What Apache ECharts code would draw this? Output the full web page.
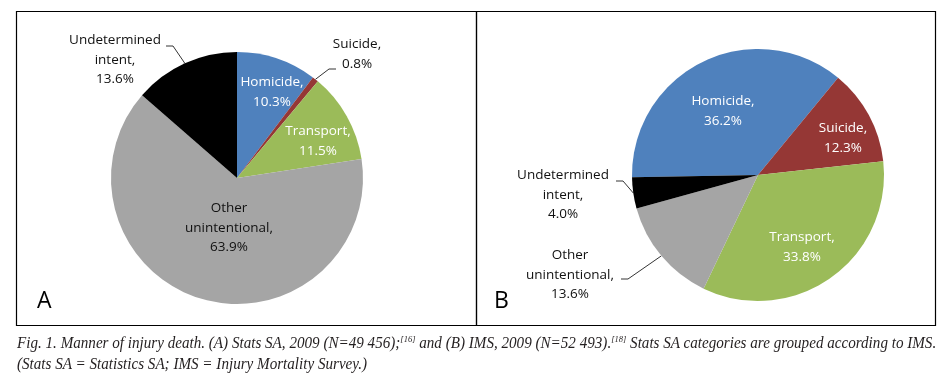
<!DOCTYPE html>
<html>
<head>
<meta charset="utf-8">
<script src="https://cdn.jsdelivr.net/npm/echarts@6/dist/echarts.min.js"></script>
<style>
  html, body { margin: 0; padding: 0; background: #fff; }
  #chart { position: absolute; left: 0; top: 0; width: 952px; height: 383px; }
  .caption {
    position: absolute;
    left: 17px;
    font-family: 'Liberation Serif', serif;
    font-style: italic;
    font-size: 16px;
    line-height: 18px;
    color: #231f20;
    white-space: nowrap;
    transform-origin: 0 0;
  }
  .caption sup { font-size: 9px; vertical-align: 6px; line-height: 0; }
</style>
</head>
<body>
<div id="chart"></div>
<div class="caption" id="cap1" style="top:334px">Fig. 1. Manner of injury death. (A) Stats SA, 2009 (N=49 456);<sup>[16]</sup> and (B) IMS, 2009 (N=52 493).<sup>[18]</sup> Stats SA categories are grouped according to IMS.</div>
<div class="caption" id="cap2" style="top:355px">(Stats SA = Statistics SA; IMS = Injury Mortality Survey.)</div>
<script>
// data
const categories = ['Homicide', 'Suicide', 'Transport', 'Other unintentional', 'Undetermined intent'];
const statsSA = [10.3, 0.8, 11.5, 63.9, 13.6]; // (A) Stats SA 2009
const ims = [36.2, 12.3, 33.8, 13.6, 4.0];     // (B) IMS 2009

// how the category names wrap in the slice labels
const labelNames = {
  'Homicide': 'Homicide',
  'Suicide': 'Suicide',
  'Transport': 'Transport',
  'Other unintentional': 'Other\nunintentional',
  'Undetermined intent': 'Undetermined\nintent'
};

const colors = ['#4F81BD', '#953735', '#9BBB59', '#A5A5A5', '#000000'];
const fontFamily = "'Open Sans', 'Noto Sans', sans-serif";

// label placement per panel (centre of label, leader line bend + end)
const labelStyleA = {
  'Homicide': { x: 272, y: 92, inside: true },
  'Suicide': { x: 357, y: 54, leader: [[329, 69], [336, 69]] },
  'Transport': { x: 318, y: 141, inside: true },
  'Other unintentional': { x: 229, y: 228, inside: true, dark: true },
  'Undetermined intent': { x: 115, y: 60, leader: [[173, 46], [166, 46]] }
};
const labelStyleB = {
  'Homicide': { x: 723, y: 111, inside: true },
  'Suicide': { x: 843, y: 138, inside: true },
  'Transport': { x: 802, y: 247, inside: true },
  'Other unintentional': { x: 570, y: 275, leader: [[628, 279], [621, 279]] },
  'Undetermined intent': { x: 563, y: 195, leader: [[623, 181], [616, 181]] }
};
const labelStyles = [labelStyleA, labelStyleB];

const buildData = (values, styles) => {
  return categories.map((name, i) => {
    const st = styles[name];
    return {
      name,
      value: values[i],
      itemStyle: { color: colors[i] },
      label: {
        color: st.inside && !st.dark ? '#ffffff' : '#111111'
      },
      labelLine: { show: !st.inside }
    };
  });
};

const makeSeries = (values, styles, center, startAngle) => {
  return {
    type: 'pie',
    center,
    radius: 126,
    startAngle,
    clockwise: true,
    avoidLabelOverlap: false,
    silent: true,
    animation: false,
    itemStyle: { borderWidth: 0 },
    label: {
      show: true,
      position: 'outside',
      fontFamily,
      fontSize: 13.5,
      lineHeight: 19.5,
      align: 'center',
      formatter: (p) => `${labelNames[p.name]},\n${p.value.toFixed(1)}%`
    },
    labelLine: {
      show: true,
      lineStyle: { color: '#000', width: 0.8 }
    },
    labelLayout: (params) => {
      const name = categories[params.dataIndex];
      const st = styles[name];
      const out = { x: st.x, y: st.y, align: 'center', verticalAlign: 'middle' };
      if (st.leader && params.labelLinePoints) {
        out.labelLinePoints = [params.labelLinePoints[0], st.leader[0], st.leader[1]];
      }
      return out;
    },
    data: buildData(values, styles)
  };
};

const chart = echarts.init(document.getElementById('chart'), null, { renderer: 'canvas' });

const option = {
  animation: false,
  backgroundColor: '#ffffff',
  graphic: [
    { type: 'rect', shape: { x: 16.5, y: 11.5, width: 460, height: 314 }, style: { fill: 'none', stroke: '#000', lineWidth: 1.2 } },
    { type: 'rect', shape: { x: 476.5, y: 11.5, width: 459, height: 314 }, style: { fill: 'none', stroke: '#000', lineWidth: 1.2 } },
    { type: 'text', left: 37, top: 290, style: { text: 'A', fontSize: 23, fontFamily, fill: '#000' } },
    { type: 'text', left: 494, top: 290, style: { text: 'B', fontSize: 23, fontFamily, fill: '#000' } }
  ],
  series: [
    makeSeries(statsSA, labelStyles[0], [237, 178], 90),
    makeSeries(ims, labelStyles[1], [758, 175], 181)
  ]
};

chart.setOption(option);

// stretch caption lines to the width the figure uses
const cap1 = document.getElementById('cap1');
const cap2 = document.getElementById('cap2');
const scale = 919 / cap1.scrollWidth;
cap1.style.transform = `scaleX(${scale})`;
cap2.style.transform = `scaleX(${scale})`;
</script>
</body>
</html>
